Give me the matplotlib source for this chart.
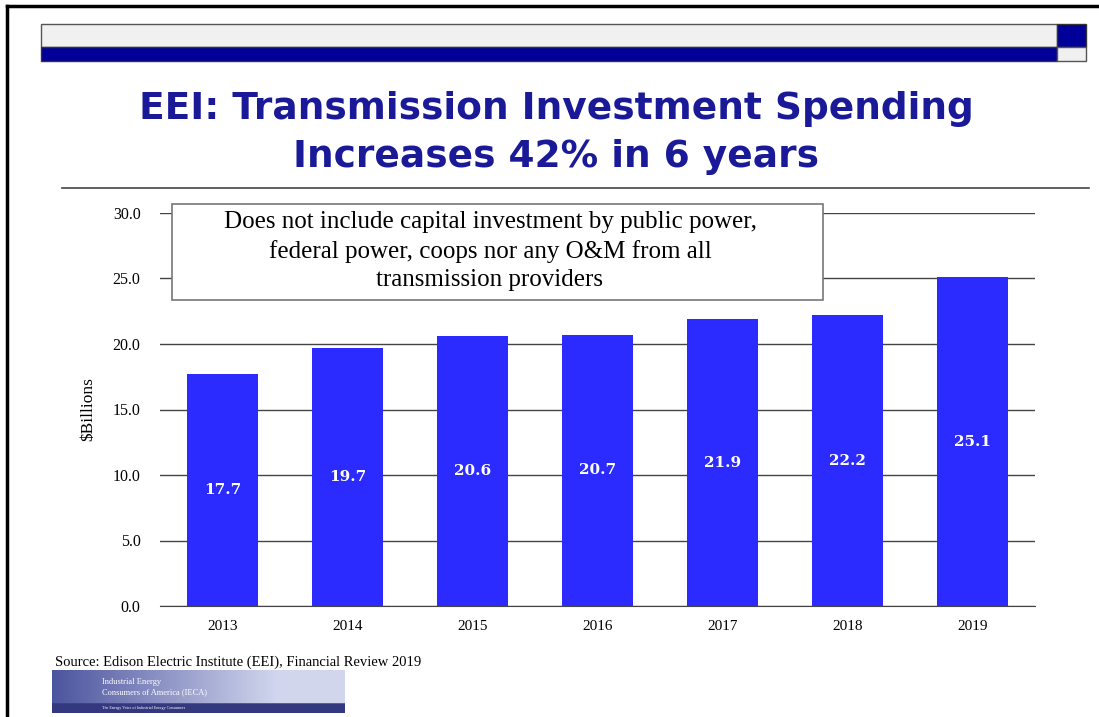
import matplotlib
matplotlib.use("Agg")
import matplotlib.pyplot as plt
import numpy as np
from matplotlib.patches import Rectangle

years = ["2013", "2014", "2015", "2016", "2017", "2018", "2019"]
values = [17.7, 19.7, 20.6, 20.7, 21.9, 22.2, 25.1]
yticks = [0, 5, 10, 15, 20, 25, 30]
title = "EEI: Transmission Investment Spending\nIncreases 42% in 6 years"
note = ("Does not include capital investment by public power,\n"
        "federal power, coops nor any O&M from all\n"
        "transmission providers")
source = "Source: Edison Electric Institute (EEI), Financial Review 2019"

W, H = 1099, 717
fig = plt.figure(figsize=(W / 100, H / 100), dpi=100)
fig.patch.set_facecolor("white")

def fx(x):
    return x / W

def fy(y):
    return 1 - y / H

# slide border lines
fig.add_artist(plt.Line2D([fx(7), fx(1099)], [fy(6), fy(6)], color="black", lw=2.5))
fig.add_artist(plt.Line2D([fx(7), fx(7)], [fy(6), fy(717)], color="black", lw=2.5))

# header bars
fig.add_artist(Rectangle((fx(41), fy(47)), fx(1057 - 41), (47 - 24) / H, facecolor="#f0f0f0",
                         edgecolor="#555555", lw=1))
fig.add_artist(Rectangle((fx(41), fy(61)), fx(1057 - 41), (61 - 47) / H, facecolor="#000099",
                         edgecolor="#333333", lw=1))
fig.add_artist(Rectangle((fx(1057), fy(47)), fx(1086 - 1057), (47 - 24) / H, facecolor="#000099",
                         edgecolor="#333333", lw=1))
fig.add_artist(Rectangle((fx(1057), fy(61)), fx(1086 - 1057), (61 - 47) / H, facecolor="#f0f0f0",
                         edgecolor="#555555", lw=1))

# title
fig.text(fx(556), fy(133), title, ha="center", va="center", fontsize=27, fontweight="bold",
         color="#1a1a99", family="DejaVu Sans", linespacing=1.45)
fig.add_artist(plt.Line2D([fx(62), fx(1089)], [fy(188), fy(188)], color="#444444", lw=1.2))

# axes
ax = fig.add_axes([fx(160), fy(606), fx(1035 - 160), (606 - 213) / H])
x = np.arange(len(years))
bars = ax.bar(x, values, width=0.57, color="#2b2bff", zorder=3)
ax.set_xlim(-0.5, len(years) - 0.5)
ax.set_ylim(0, 30)
ax.set_yticks(yticks)
ax.set_yticklabels([f"{v:.1f}" for v in yticks], family="Liberation Serif", fontsize=11.5)
ax.set_xticks(x)
ax.set_xticklabels(years, family="Liberation Serif", fontsize=11)
ax.yaxis.grid(True, color="#444444", lw=1, zorder=0)
ax.tick_params(axis="y", length=0, pad=14)
ax.tick_params(axis="x", length=0, pad=10)
for s in ["top", "right", "left"]:
    ax.spines[s].set_visible(False)
ax.spines["bottom"].set_color("#444444")
ax.set_ylabel("$Billions", family="Liberation Serif", fontsize=12.5, labelpad=12)
for xi, v in zip(x, values):
    ax.text(xi, v / 2, f"{v:.1f}", ha="center", va="center", color="white",
            fontweight="bold", family="DejaVu Serif", fontsize=11, zorder=4)

# annotation box
fig.add_artist(Rectangle((fx(172), fy(300)), fx(823 - 172), (300 - 204) / H, facecolor="white",
                         edgecolor="#777777", lw=1.2, zorder=5))
fig.text(fx(490), fy(251), note, ha="center", va="center", fontsize=18,
         family="Liberation Serif", linespacing=1.35, zorder=6)

# source
fig.text(fx(55), fy(662), source, ha="left", va="center", fontsize=10.5,
         family="Liberation Serif")

# logo
lax = fig.add_axes([fx(52), fy(713), fx(345 - 52), (713 - 670) / H])
grad = np.linspace(0, 1, 200)
img = np.zeros((40, 200, 3))
c1 = np.array([0.30, 0.33, 0.62])
c2 = np.array([0.82, 0.84, 0.93])
for i, g in enumerate(grad):
    t = min(1, g * 1.3)
    img[:, i, :] = c1 * (1 - t) + c2 * t
img[31:, :, :] = np.array([0.20, 0.22, 0.50])
lax.imshow(img, aspect="auto", extent=[0, 1, 0, 1])
lax.text(0.17, 0.72, "Industrial Energy", color="white", fontsize=6, family="Liberation Serif",
         va="center")
lax.text(0.17, 0.48, "Consumers of America (IECA)", color="white", fontsize=6,
         family="Liberation Serif", va="center")
lax.text(0.17, 0.12, "The Energy Voice of Industrial Energy Consumers", color="white", fontsize=3,
         family="Liberation Serif", va="center")
lax.set_axis_off()

fig.savefig("out.png", dpi=100)
